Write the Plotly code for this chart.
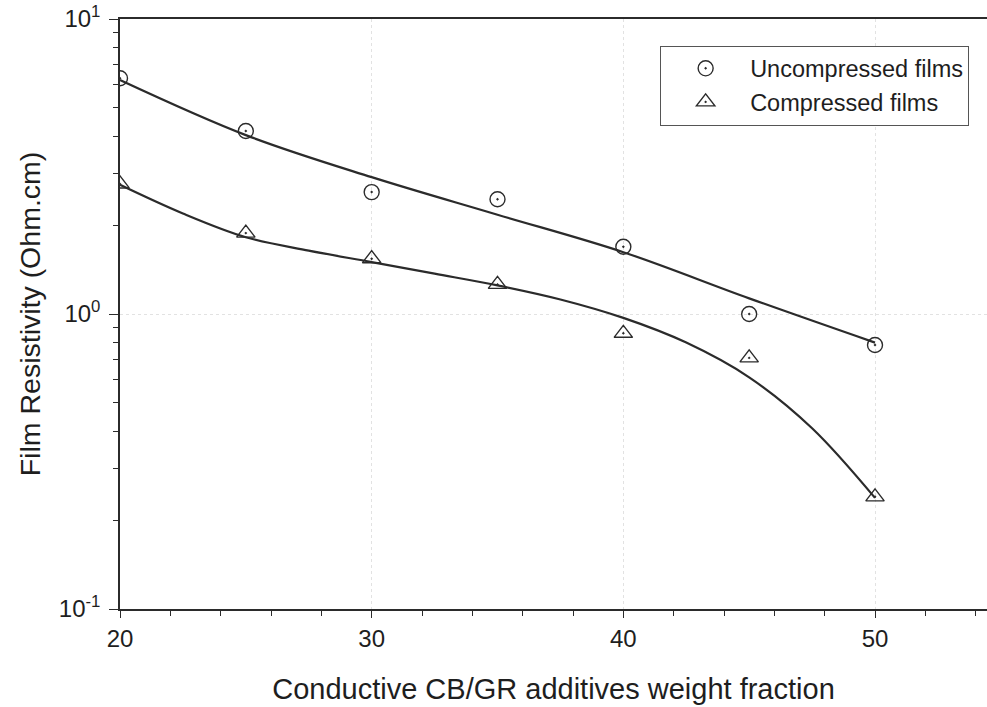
import plotly.graph_objects as go

# Measured film resistivity (Ohm.cm) against conductive additive weight fraction
weight_fraction = [20, 25, 30, 35, 40, 45, 50]
uncompressed = [6.3, 4.17, 2.59, 2.45, 1.69, 1.0, 0.785]
compressed = [2.76, 1.88, 1.54, 1.26, 0.86, 0.71, 0.24]

# Smooth trend curves through the data
uncompressed_curve_x = [20, 25, 30, 35, 40, 45, 50]
uncompressed_curve = [6.21, 4.04, 2.91, 2.17, 1.62, 1.13, 0.80]
compressed_curve_x = [20, 22.5, 25, 27.5, 30, 32.5, 35, 37.5, 40, 42.5, 45, 47.5, 50]
compressed_curve = [2.74, 2.19, 1.82, 1.64, 1.50, 1.37, 1.25, 1.12, 0.97, 0.80, 0.61, 0.41, 0.238]

y_tick_vals = [0.1, 1, 10]
y_tick_text = ["10<sup>-1</sup>", "10<sup>0</sup>", "10<sup>1</sup>"]
x_tick_vals = [20, 30, 40, 50]
x_tick_text = ["20", "30", "40", "50"]

INK = "#2b2b2b"
TEXT = "#1e1e1e"
FONT = "Arial, 'Liberation Sans', Helvetica, sans-serif"

fig = go.Figure()

fig.add_trace(go.Scatter(
    x=uncompressed_curve_x, y=uncompressed_curve, mode="lines",
    line=dict(color=INK, width=2.2, shape="spline", smoothing=1.0),
    showlegend=False, hoverinfo="skip"))
fig.add_trace(go.Scatter(
    x=compressed_curve_x, y=compressed_curve, mode="lines",
    line=dict(color=INK, width=2.2, shape="spline", smoothing=1.0),
    showlegend=False, hoverinfo="skip"))

fig.add_trace(go.Scatter(
    x=weight_fraction, y=uncompressed, mode="markers", name="Uncompressed films",
    marker=dict(symbol="circle-open-dot", size=15, color=INK, line=dict(width=1.4, color=INK))))
fig.add_trace(go.Scatter(
    x=weight_fraction, y=compressed, mode="markers", name="Compressed films",
    marker=dict(symbol="triangle-up-open-dot", size=16, color=INK, line=dict(width=1.4, color=INK))))

fig.update_layout(
    width=987, height=707,
    margin=dict(l=120, r=0, t=19, b=98),
    paper_bgcolor="white", plot_bgcolor="white",
    font=dict(family=FONT, color=TEXT, size=25),
    legend=dict(
        x=0.623, y=0.955, xanchor="left", yanchor="top",
        bordercolor="#555555", borderwidth=1, bgcolor="white",
        font=dict(size=23.5, family=FONT, color=TEXT),
        itemwidth=79,
    ),
)

fig.update_xaxes(
    range=[20, 54.45], tickmode="array", tickvals=x_tick_vals, ticktext=x_tick_text,
    ticks="outside", ticklen=7, tickwidth=1.3, tickcolor=INK,
    minor=dict(dtick=2, ticks="outside", ticklen=5, tickwidth=1.2, tickcolor=INK, showgrid=False),
    showline=True, linecolor=INK, linewidth=1.5, mirror=True,
    showgrid=True, gridcolor="#e2e2e2", griddash="dot", gridwidth=1,
    zeroline=False,
    tickfont_size=24, tickfont_family=FONT, tickfont_color=TEXT,
    title_text="Conductive CB/GR additives weight fraction",
    title_font=dict(size=29, family=FONT, color=TEXT), title_standoff=28,
)

fig.update_yaxes(
    type="log", range=[-1, 1], tickmode="array", tickvals=y_tick_vals, ticktext=y_tick_text,
    ticks="outside", ticklen=9, tickwidth=1.3, tickcolor=INK,
    minor=dict(tickvals=[0.2, 0.3, 0.4, 0.5, 0.6, 0.7, 0.8, 0.9,
                         2, 3, 4, 5, 6, 7, 8, 9],
               ticks="outside", ticklen=5, tickwidth=1.2, tickcolor=INK, showgrid=False),
    showline=True, linecolor=INK, linewidth=1.5, mirror=False,
    showgrid=True, gridcolor="#e2e2e2", griddash="dot", gridwidth=1,
    zeroline=False,
    tickfont_size=24, tickfont_family=FONT, tickfont_color=TEXT,
    ticklabelstandoff=4,
    title_text="Film Resistivity (Ohm.cm)",
    title_font=dict(size=28.5, family=FONT, color=TEXT), title_standoff=10,
)

fig.write_html("out.html")
